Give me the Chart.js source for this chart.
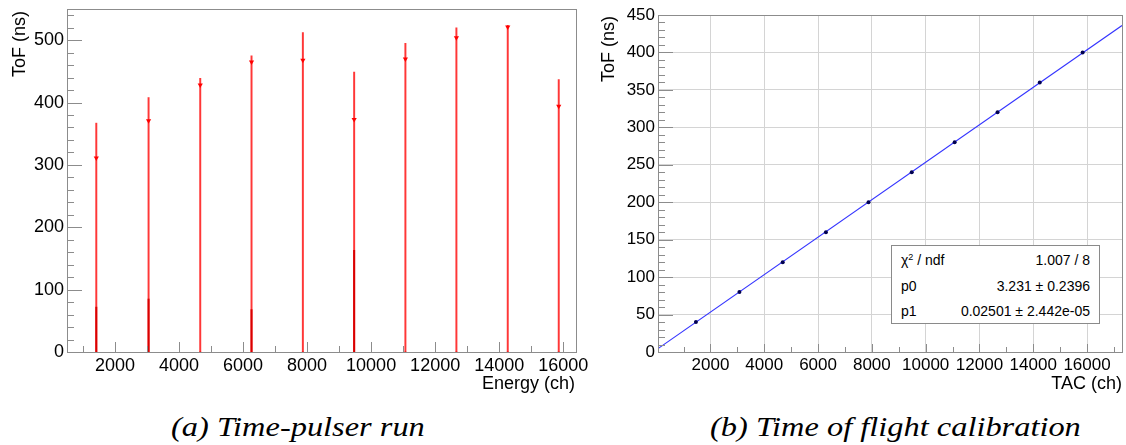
<!DOCTYPE html>
<html><head><meta charset="utf-8">
<script src="https://cdn.jsdelivr.net/npm/chart.js@4.4.0/dist/chart.umd.min.js"></script>
<style>
html,body{margin:0;padding:0;background:#fff;}
body{width:1126px;height:445px;position:relative;overflow:hidden;font-family:"Liberation Sans",Arial,Helvetica,sans-serif;}
canvas{position:absolute;top:0;}
.lbl{position:absolute;font-size:18px;color:#000;white-space:nowrap;line-height:18px;}
.rot{transform-origin:0 0;transform:rotate(-90deg);}
.cap{position:absolute;font-family:"Liberation Serif","DejaVu Serif",serif;font-style:italic;font-size:27px;line-height:27px;white-space:nowrap;color:#000;transform-origin:0 0;transform:scaleX(1.2);}
#stats{position:absolute;left:891px;top:245px;width:207px;height:77px;border:1px solid #8a8a8a;background:#fff;font-size:14px;}
#stats .row{position:absolute;left:9px;right:9px;height:16px;}
#stats .k{position:absolute;left:0;}
#stats .v{position:absolute;right:0;}
</style>
</head><body>
<canvas id="left" width="600" height="400" style="left:0"></canvas>
<canvas id="right" width="541" height="400" style="left:585px"></canvas>
<div class="lbl rot" style="left:10px;top:77px;">ToF (ns)</div>
<div class="lbl" style="right:551px;top:374px;">Energy (ch)</div>
<div class="lbl rot" style="left:599px;top:82px;">ToF (ns)</div>
<div class="lbl" style="right:4px;top:374px;">TAC (ch)</div>
<div id="stats"></div>
<div class="cap" style="left:171px;top:414px;">(a) Time-pulser run</div>
<div class="cap" style="left:710px;top:414px;">(b) Time of flight calibration</div>
<script>
// ---- data ----
const energyCh   = [1415, 3048, 4662, 6264, 7868, 9470, 11071, 12664, 14268, 15861];
const tofMean    = [311, 371, 428, 465, 468, 373, 470, 504, 521, 394];
const tofUpper   = [367, 408, 439, 475, 512, 449, 495, 520, 524, 437];
const lowSegTop  = [72, 85, 0, 68, 0, 163, 0, 0, 0, 0];

const tacCh      = [1459, 3076, 4686, 6292, 7876, 9483, 11078, 12673, 14242, 15837];
const tofCal     = [40, 80, 120, 160, 200, 240, 280, 320, 360, 400];
const fitX       = [49, 17300];
const fitY       = [4.5, 435.9];

const leftXTicks  = [2000, 4000, 6000, 8000, 10000, 12000, 14000, 16000];
const leftYTicks  = [0, 100, 200, 300, 400, 500];
const rightXTicks = [2000, 4000, 6000, 8000, 10000, 12000, 14000, 16000];
const rightYTicks = [0, 50, 100, 150, 200, 250, 300, 350, 400, 450];

const statLabels = ['χ<sup style="font-size:9px;vertical-align:5px">2</sup> / ndf', 'p0', 'p1'];
const statValues = ['1.007 / 8', '3.231 ± 0.2396', '0.02501 ± 2.442e-05'];

// ---- stats box ----
const sb = document.getElementById('stats');
statLabels.forEach((k, i) => {
  const r = document.createElement('div');
  r.className = 'row';
  r.style.top = (6 + i * 25.5) + 'px';
  r.innerHTML = '<span class="k">' + k + '</span><span class="v">' + statValues[i] + '</span>';
  sb.appendChild(r);
});

Chart.defaults.font.family = '"Liberation Sans", Arial, Helvetica, sans-serif';
Chart.defaults.color = '#000';
Chart.defaults.animation = false;

const FRAME = '#8c8c8c';
function rootAxes(cfg) {
  return {
    id: 'rootAxes',
    afterDraw(chart) {
      const ctx = chart.ctx, a = chart.chartArea;
      const xs = chart.scales.x, ys = chart.scales.y;
      ctx.save();
      ctx.strokeStyle = FRAME;
      ctx.lineWidth = 1;
      ctx.strokeRect(Math.round(a.left) + 0.5, Math.round(a.top) + 0.5,
                     Math.round(a.right - a.left), Math.round(a.bottom - a.top));
      ctx.beginPath();
      for (let v = cfg.xMinorStep; v <= xs.max; v += cfg.xMinorStep) {
        if (v < xs.min) continue;
        const major = cfg.xTicks.includes(v);
        const px = Math.round(xs.getPixelForValue(v)) + 0.5;
        ctx.moveTo(px, a.bottom);
        ctx.lineTo(px, a.bottom - (major ? cfg.xMajorLen : cfg.xMinorLen));
      }
      for (let v = 0; v <= ys.max; v += cfg.yMinorStep) {
        const major = cfg.yTicks.includes(v);
        const py = Math.round(ys.getPixelForValue(v)) + 0.5;
        ctx.moveTo(a.left, py);
        ctx.lineTo(a.left + (major ? cfg.yMajorLen : cfg.yMinorLen), py);
      }
      ctx.stroke();
      ctx.restore();
    }
  };
}
const fitX0 = h => s => { s.height = h; s.paddingLeft = 0; s.paddingRight = 0; };
const fitY0 = w => s => { s.width = w; s.paddingTop = 0; s.paddingBottom = 0; };

// ---- left chart: time-pulser run ----
new Chart(document.getElementById('left'), {
  type: 'scatter',
  data: {
    datasets: [
      {
        type: 'scatter',
        data: energyCh.map((x, i) => ({ x: x, y: tofMean[i] })),
        pointStyle: 'triangle', rotation: 180, radius: 3,
        backgroundColor: '#ff0000', borderColor: '#ff0000', borderWidth: 0
      },
      {
        type: 'bar', grouped: false,
        data: energyCh.map((x, i) => ({ x: x, y: [0, lowSegTop[i]] })),
        backgroundColor: '#d80000', barThickness: 1.3, borderWidth: 0
      },
      {
        type: 'bar', grouped: false,
        data: energyCh.map((x, i) => ({ x: x, y: [0, tofUpper[i]] })),
        backgroundColor: 'rgba(255,20,20,0.85)', barThickness: 1.3, borderWidth: 0
      }
    ]
  },
  options: {
    responsive: false,
    layout: { padding: { top: 9, right: 24, left: 0, bottom: 0 } },
    plugins: { legend: { display: false }, tooltip: { enabled: false } },
    scales: {
      x: {
        type: 'linear', min: 500, max: 16400, offset: false,
        grid: { display: false, drawTicks: false, offset: false },
        border: { display: false },
        afterBuildTicks: s => { s.ticks = leftXTicks.map(v => ({ value: v })); },
        afterFit: fitX0(48),
        ticks: { font: { size: 18 }, padding: 3, maxRotation: 0, autoSkip: false, callback: v => String(v) }
      },
      y: {
        type: 'linear', min: 0, max: 550,
        grid: { display: false, drawTicks: false },
        border: { display: false },
        afterBuildTicks: s => { s.ticks = leftYTicks.map(v => ({ value: v })); },
        afterFit: fitY0(67),
        ticks: { font: { size: 18 }, padding: 3, callback: v => String(v) }
      }
    }
  },
  plugins: [rootAxes({ xTicks: leftXTicks, yTicks: leftYTicks, xMinorStep: 1000, yMinorStep: 20,
                       xMajorLen: 10, xMinorLen: 6, yMajorLen: 15, yMinorLen: 7 })]
});

// ---- right chart: ToF calibration ----
new Chart(document.getElementById('right'), {
  type: 'scatter',
  data: {
    datasets: [
      {
        type: 'scatter',
        data: tacCh.map((x, i) => ({ x: x, y: tofCal[i] })),
        pointStyle: 'circle', radius: 2, backgroundColor: '#000050', borderWidth: 0
      },
      {
        type: 'line',
        data: fitX.map((x, i) => ({ x: x, y: fitY[i] })),
        borderColor: '#3333ff', borderWidth: 1.2, pointRadius: 0, fill: false
      }
    ]
  },
  options: {
    responsive: false,
    layout: { padding: { top: 15, right: 3, left: 0, bottom: 0 } },
    plugins: { legend: { display: false }, tooltip: { enabled: false } },
    scales: {
      x: {
        type: 'linear', min: 49, max: 17300,
        grid: { display: true, drawTicks: false, color: '#d4d4d4' },
        border: { display: false },
        afterBuildTicks: s => { s.ticks = rightXTicks.map(v => ({ value: v })); },
        afterFit: fitX0(48),
        ticks: { font: { size: 17 }, padding: 3, maxRotation: 0, autoSkip: false, callback: v => String(v) }
      },
      y: {
        type: 'linear', min: 0, max: 450,
        grid: { display: true, drawTicks: false, color: '#d4d4d4' },
        border: { display: false },
        afterBuildTicks: s => { s.ticks = rightYTicks.map(v => ({ value: v })); },
        afterFit: fitY0(73),
        ticks: { font: { size: 17 }, padding: 3, callback: v => String(v) }
      }
    }
  },
  plugins: [rootAxes({ xTicks: rightXTicks, yTicks: rightYTicks, xMinorStep: 1000, yMinorStep: 10,
                       xMajorLen: 8, xMinorLen: 5, yMajorLen: 15, yMinorLen: 7 })]
});
</script>
</body></html>
